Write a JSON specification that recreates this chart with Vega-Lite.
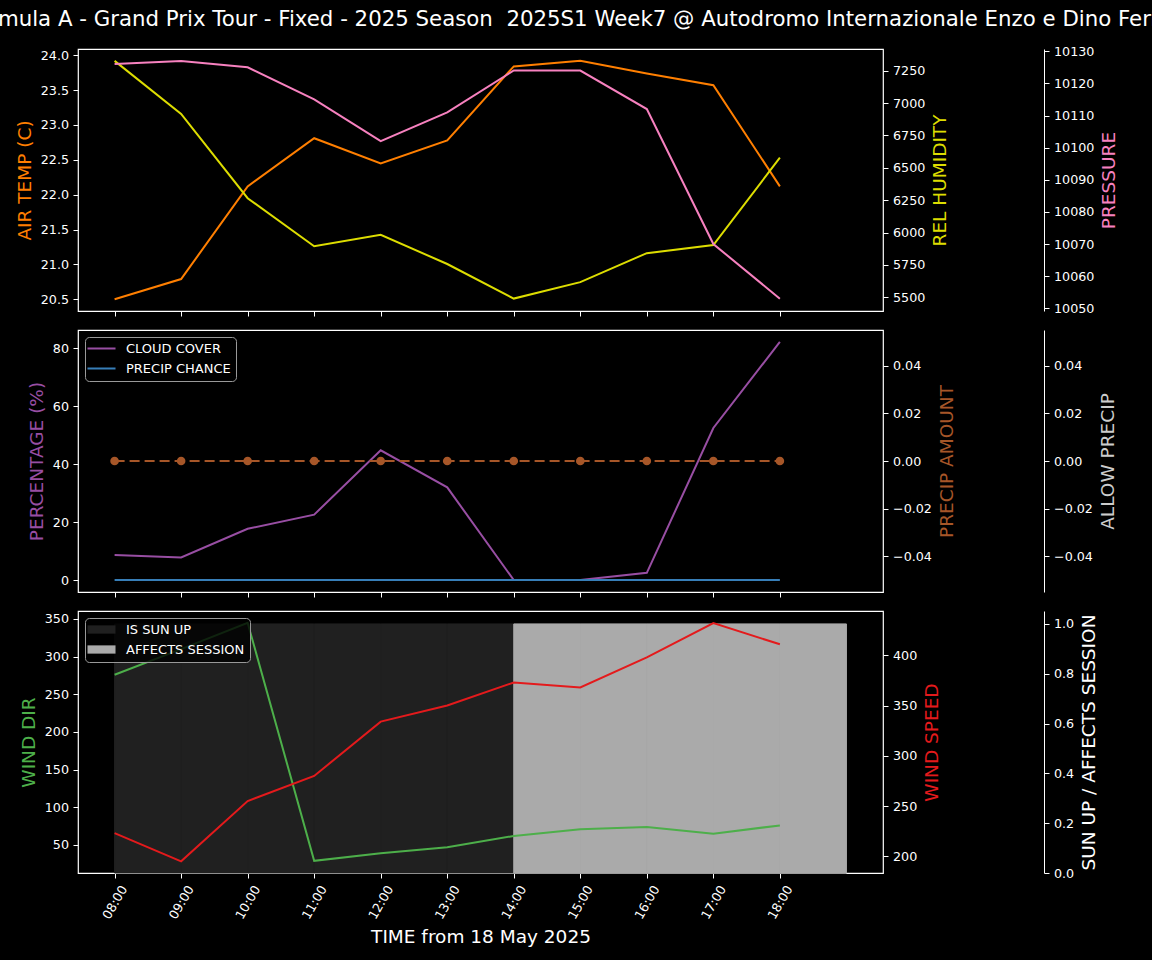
{
"$schema": "https://vega.github.io/schema/vega-lite/v6.json",
"background": "black",
"padding": {"left": -35, "top": 9, "right": -25, "bottom": 25},
"title": {"text": "Formula A - Grand Prix Tour - Fixed - 2025 Season\u00a0 2025S1 Week7 @ Autodromo Internazionale Enzo e Dino Ferrari", "color": "white", "font": "DejaVu Sans", "fontSize": 21.3, "fontWeight": "normal", "anchor": "start", "frame": "group", "dx": -113, "offset": 14},
"config": {
  "font": "DejaVu Sans",
  "view": {"stroke": "white", "strokeWidth": 1.2},
  "axis": {"labelColor": "white", "labelFont": "DejaVu Sans", "labelFontSize": 12.7, "titleFont": "DejaVu Sans", "titleFontSize": 18.5, "titleFontWeight": "normal", "tickColor": "white", "tickSize": 5, "tickWidth": 1, "domainColor": "white", "grid": false, "labelPadding": 4.5, "titlePadding": 6},
  "legend": {"labelColor": "white", "labelFont": "DejaVu Sans", "labelFontSize": 13, "fillColor": "rgba(0,0,0,0.8)", "strokeColor": "#999999", "cornerRadius": 4, "padding": 5, "offset": 7, "orient": "top-left", "title": null, "rowPadding": 6, "labelOffset": 18, "symbolOffset": 5, "symbolSize": 121}
},
"datasets": {
  "wx": [
    {"time": "2025-05-18T08:00:00", "air_temp": 20.50, "humidity": 7326, "pressure": 10126, "precip_amount": 0, "allow_precip": 0, "wind_dir": 276, "wind_speed": 223},
    {"time": "2025-05-18T09:00:00", "air_temp": 20.79, "humidity": 6916, "pressure": 10127, "precip_amount": 0, "allow_precip": 0, "wind_dir": 310, "wind_speed": 195},
    {"time": "2025-05-18T10:00:00", "air_temp": 22.12, "humidity": 6265, "pressure": 10125, "precip_amount": 0, "allow_precip": 0, "wind_dir": 345, "wind_speed": 255},
    {"time": "2025-05-18T11:00:00", "air_temp": 22.81, "humidity": 5894, "pressure": 10115, "precip_amount": 0, "allow_precip": 0, "wind_dir": 29, "wind_speed": 280},
    {"time": "2025-05-18T12:00:00", "air_temp": 22.45, "humidity": 5983, "pressure": 10102, "precip_amount": 0, "allow_precip": 0, "wind_dir": 39, "wind_speed": 334},
    {"time": "2025-05-18T13:00:00", "air_temp": 22.78, "humidity": 5757, "pressure": 10111, "precip_amount": 0, "allow_precip": 0, "wind_dir": 47, "wind_speed": 350},
    {"time": "2025-05-18T14:00:00", "air_temp": 23.84, "humidity": 5490, "pressure": 10124, "precip_amount": 0, "allow_precip": 0, "wind_dir": 62, "wind_speed": 373},
    {"time": "2025-05-18T15:00:00", "air_temp": 23.92, "humidity": 5617, "pressure": 10124, "precip_amount": 0, "allow_precip": 0, "wind_dir": 71, "wind_speed": 368},
    {"time": "2025-05-18T16:00:00", "air_temp": 23.74, "humidity": 5841, "pressure": 10112, "precip_amount": 0, "allow_precip": 0, "wind_dir": 74, "wind_speed": 398},
    {"time": "2025-05-18T17:00:00", "air_temp": 23.57, "humidity": 5904, "pressure": 10070, "precip_amount": 0, "allow_precip": 0, "wind_dir": 65, "wind_speed": 432},
    {"time": "2025-05-18T18:00:00", "air_temp": 22.12, "humidity": 6578, "pressure": 10053, "precip_amount": 0, "allow_precip": 0, "wind_dir": 76, "wind_speed": 411}
  ],
  "pct": [
    {"time": "2025-05-18T08:00:00", "series": "CLOUD COVER", "value": 8.7},
    {"time": "2025-05-18T09:00:00", "series": "CLOUD COVER", "value": 7.8},
    {"time": "2025-05-18T10:00:00", "series": "CLOUD COVER", "value": 17.7},
    {"time": "2025-05-18T11:00:00", "series": "CLOUD COVER", "value": 22.6},
    {"time": "2025-05-18T12:00:00", "series": "CLOUD COVER", "value": 44.8},
    {"time": "2025-05-18T13:00:00", "series": "CLOUD COVER", "value": 32.0},
    {"time": "2025-05-18T14:00:00", "series": "CLOUD COVER", "value": 0},
    {"time": "2025-05-18T15:00:00", "series": "CLOUD COVER", "value": 0},
    {"time": "2025-05-18T16:00:00", "series": "CLOUD COVER", "value": 2.5},
    {"time": "2025-05-18T17:00:00", "series": "CLOUD COVER", "value": 52.5},
    {"time": "2025-05-18T18:00:00", "series": "CLOUD COVER", "value": 82.2},
    {"time": "2025-05-18T08:00:00", "series": "PRECIP CHANCE", "value": 0},
    {"time": "2025-05-18T09:00:00", "series": "PRECIP CHANCE", "value": 0},
    {"time": "2025-05-18T10:00:00", "series": "PRECIP CHANCE", "value": 0},
    {"time": "2025-05-18T11:00:00", "series": "PRECIP CHANCE", "value": 0},
    {"time": "2025-05-18T12:00:00", "series": "PRECIP CHANCE", "value": 0},
    {"time": "2025-05-18T13:00:00", "series": "PRECIP CHANCE", "value": 0},
    {"time": "2025-05-18T14:00:00", "series": "PRECIP CHANCE", "value": 0},
    {"time": "2025-05-18T15:00:00", "series": "PRECIP CHANCE", "value": 0},
    {"time": "2025-05-18T16:00:00", "series": "PRECIP CHANCE", "value": 0},
    {"time": "2025-05-18T17:00:00", "series": "PRECIP CHANCE", "value": 0},
    {"time": "2025-05-18T18:00:00", "series": "PRECIP CHANCE", "value": 0}
  ],
  "sun": [
    {"start": "2025-05-18T08:00:00", "end": "2025-05-18T09:00:00", "series": "IS SUN UP", "value": 1},
    {"start": "2025-05-18T09:00:00", "end": "2025-05-18T10:00:00", "series": "IS SUN UP", "value": 1},
    {"start": "2025-05-18T10:00:00", "end": "2025-05-18T11:00:00", "series": "IS SUN UP", "value": 1},
    {"start": "2025-05-18T11:00:00", "end": "2025-05-18T12:00:00", "series": "IS SUN UP", "value": 1},
    {"start": "2025-05-18T12:00:00", "end": "2025-05-18T13:00:00", "series": "IS SUN UP", "value": 1},
    {"start": "2025-05-18T13:00:00", "end": "2025-05-18T14:00:00", "series": "IS SUN UP", "value": 1},
    {"start": "2025-05-18T14:00:00", "end": "2025-05-18T15:00:00", "series": "IS SUN UP", "value": 1},
    {"start": "2025-05-18T15:00:00", "end": "2025-05-18T16:00:00", "series": "IS SUN UP", "value": 1},
    {"start": "2025-05-18T16:00:00", "end": "2025-05-18T17:00:00", "series": "IS SUN UP", "value": 1},
    {"start": "2025-05-18T17:00:00", "end": "2025-05-18T18:00:00", "series": "IS SUN UP", "value": 1},
    {"start": "2025-05-18T18:00:00", "end": "2025-05-18T19:00:00", "series": "IS SUN UP", "value": 1},
    {"start": "2025-05-18T14:00:00", "end": "2025-05-18T15:00:00", "series": "AFFECTS SESSION", "value": 1},
    {"start": "2025-05-18T15:00:00", "end": "2025-05-18T16:00:00", "series": "AFFECTS SESSION", "value": 1},
    {"start": "2025-05-18T16:00:00", "end": "2025-05-18T17:00:00", "series": "AFFECTS SESSION", "value": 1},
    {"start": "2025-05-18T17:00:00", "end": "2025-05-18T18:00:00", "series": "AFFECTS SESSION", "value": 1},
    {"start": "2025-05-18T18:00:00", "end": "2025-05-18T19:00:00", "series": "AFFECTS SESSION", "value": 1}
  ]
},
"spacing": 19,
"bounds": "flush",
"resolve": {"scale": {"color": "independent", "fill": "independent", "stroke": "independent"}, "legend": {"color": "independent", "fill": "independent"}},
"vconcat": [
  {
    "width": 805, "height": 262,
    "data": {"name": "wx"},
    "encoding": {"x": {"field": "time", "type": "temporal",
      "scale": {"domain": [{"year": 2025, "month": 5, "date": 18, "hours": 7, "minutes": 27}, {"year": 2025, "month": 5, "date": 18, "hours": 19, "minutes": 33}]},
      "axis": {"values": [{"year": 2025, "month": 5, "date": 18, "hours": 8}, {"year": 2025, "month": 5, "date": 18, "hours": 9}, {"year": 2025, "month": 5, "date": 18, "hours": 10}, {"year": 2025, "month": 5, "date": 18, "hours": 11}, {"year": 2025, "month": 5, "date": 18, "hours": 12}, {"year": 2025, "month": 5, "date": 18, "hours": 13}, {"year": 2025, "month": 5, "date": 18, "hours": 14}, {"year": 2025, "month": 5, "date": 18, "hours": 15}, {"year": 2025, "month": 5, "date": 18, "hours": 16}, {"year": 2025, "month": 5, "date": 18, "hours": 17}, {"year": 2025, "month": 5, "date": 18, "hours": 18}], "labels": false, "domain": false, "title": null}}},
    "layer": [
      {"mark": {"type": "line", "color": "#ff7f00", "strokeWidth": 2},
       "encoding": {"y": {"field": "air_temp", "type": "quantitative", "scale": {"domain": [20.332, 24.09], "nice": false, "zero": false},
         "axis": {"orient": "left", "title": "AIR TEMP (C)", "titleColor": "#ff7f00", "values": [20.5, 21, 21.5, 22, 22.5, 23, 23.5, 24], "format": ".1f", "domain": false}}}},
      {"mark": {"type": "line", "color": "#dddd00", "strokeWidth": 2},
       "encoding": {"y": {"field": "humidity", "type": "quantitative", "scale": {"domain": [5394.2, 7417.6], "nice": false, "zero": false},
         "axis": {"orient": "right", "title": "REL HUMIDITY", "titleColor": "#dddd00", "values": [5500, 5750, 6000, 6250, 6500, 6750, 7000, 7250], "format": "d", "domain": false, "titleAngle": 270, "titleBaseline": "top"}}}},
      {"mark": {"type": "line", "color": "#f781bf", "strokeWidth": 2},
       "encoding": {"y": {"field": "pressure", "type": "quantitative", "scale": {"domain": [10049.16, 10130.7], "nice": false, "zero": false},
         "axis": {"orient": "right", "offset": 161, "title": "PRESSURE", "titleColor": "#f781bf", "values": [10050, 10060, 10070, 10080, 10090, 10100, 10110, 10120, 10130], "format": "d", "domain": true, "titleAngle": 270, "titleBaseline": "top"}}}}
    ],
    "resolve": {"scale": {"y": "independent"}}
  },
  {
    "width": 805, "height": 262,
    "encoding": {"x": {"field": "time", "type": "temporal",
      "scale": {"domain": [{"year": 2025, "month": 5, "date": 18, "hours": 7, "minutes": 27}, {"year": 2025, "month": 5, "date": 18, "hours": 19, "minutes": 33}]},
      "axis": {"values": [{"year": 2025, "month": 5, "date": 18, "hours": 8}, {"year": 2025, "month": 5, "date": 18, "hours": 9}, {"year": 2025, "month": 5, "date": 18, "hours": 10}, {"year": 2025, "month": 5, "date": 18, "hours": 11}, {"year": 2025, "month": 5, "date": 18, "hours": 12}, {"year": 2025, "month": 5, "date": 18, "hours": 13}, {"year": 2025, "month": 5, "date": 18, "hours": 14}, {"year": 2025, "month": 5, "date": 18, "hours": 15}, {"year": 2025, "month": 5, "date": 18, "hours": 16}, {"year": 2025, "month": 5, "date": 18, "hours": 17}, {"year": 2025, "month": 5, "date": 18, "hours": 18}], "labels": false, "domain": false, "title": null}}},
    "layer": [
      {"data": {"name": "pct"},
       "mark": {"type": "line", "strokeWidth": 2},
       "encoding": {"y": {"field": "value", "type": "quantitative", "scale": {"domain": [-4.11, 86.31], "nice": false, "zero": false},
         "axis": {"orient": "left", "title": "PERCENTAGE (%)", "titleColor": "#984ea3", "values": [0, 20, 40, 60, 80], "format": "d", "domain": false}},
         "color": {"field": "series", "type": "nominal", "scale": {"domain": ["CLOUD COVER", "PRECIP CHANCE"], "range": ["#984ea3", "#377eb8"]},
           "legend": {"symbolType": "M-2.55,0H2.55", "symbolStrokeWidth": 2}}}},
      {"data": {"name": "wx"},
       "mark": {"type": "line", "color": "#a65628", "strokeWidth": 2, "strokeDash": [10, 5], "point": {"filled": true, "size": 75, "color": "#a65628"}},
       "encoding": {"y": {"field": "precip_amount", "type": "quantitative", "scale": {"domain": [-0.055, 0.055], "nice": false, "zero": false},
         "axis": {"orient": "right", "title": "PRECIP AMOUNT", "titleColor": "#a65628", "values": [-0.04, -0.02, 0, 0.02, 0.04], "format": ".2f", "domain": false, "titleAngle": 270, "titleBaseline": "top"}}}},
      {"data": {"name": "wx"},
       "mark": {"type": "line", "opacity": 0},
       "encoding": {"y": {"field": "allow_precip", "type": "quantitative", "scale": {"domain": [-0.055, 0.055], "nice": false, "zero": false},
         "axis": {"orient": "right", "offset": 161, "title": "ALLOW PRECIP", "titleColor": "#cccccc", "values": [-0.04, -0.02, 0, 0.02, 0.04], "format": ".2f", "domain": true, "titleAngle": 270, "titleBaseline": "top"}}}}
    ],
    "resolve": {"scale": {"y": "independent"}}
  },
  {
    "width": 805, "height": 262,
    "encoding": {"x": {"field": "time", "type": "temporal",
      "scale": {"domain": [{"year": 2025, "month": 5, "date": 18, "hours": 7, "minutes": 27}, {"year": 2025, "month": 5, "date": 18, "hours": 19, "minutes": 33}]},
      "axis": {"values": [{"year": 2025, "month": 5, "date": 18, "hours": 8}, {"year": 2025, "month": 5, "date": 18, "hours": 9}, {"year": 2025, "month": 5, "date": 18, "hours": 10}, {"year": 2025, "month": 5, "date": 18, "hours": 11}, {"year": 2025, "month": 5, "date": 18, "hours": 12}, {"year": 2025, "month": 5, "date": 18, "hours": 13}, {"year": 2025, "month": 5, "date": 18, "hours": 14}, {"year": 2025, "month": 5, "date": 18, "hours": 15}, {"year": 2025, "month": 5, "date": 18, "hours": 16}, {"year": 2025, "month": 5, "date": 18, "hours": 17}, {"year": 2025, "month": 5, "date": 18, "hours": 18}], "format": "%H:%M", "labelAngle": -60, "labelAlign": "center", "labelBaseline": "middle", "labelPadding": 24, "labelFontSize": 12.7, "domain": false, "title": "TIME from 18 May 2025", "titleColor": "white", "titlePadding": 6}}},
    "layer": [
      {"data": {"name": "sun"},
       "mark": {"type": "rect", "strokeWidth": 1},
       "encoding": {"x": {"field": "start", "type": "temporal"}, "x2": {"field": "end"},
         "y": {"field": "value", "type": "quantitative", "scale": {"domain": [0, 1.052], "nice": false, "zero": false},
           "axis": {"orient": "right", "offset": 161, "title": "SUN UP / AFFECTS SESSION", "titleColor": "white", "values": [0, 0.2, 0.4, 0.6, 0.8, 1.0], "format": ".1f", "domain": true, "titleAngle": 270, "titleBaseline": "top"}},
         "y2": {"datum": 0},
         "fill": {"field": "series", "type": "nominal", "scale": {"domain": ["IS SUN UP", "AFFECTS SESSION"], "range": ["#202020", "#aaaaaa"]},
           "legend": {"symbolType": "M-2.55,-0.75H2.55V0.75H-2.55Z", "symbolStrokeWidth": 0}},
         "stroke": {"field": "series", "type": "nominal", "scale": {"domain": ["IS SUN UP", "AFFECTS SESSION"], "range": ["#202020", "#aaaaaa"]}, "legend": null}}},
      {"data": {"name": "wx"},
       "mark": {"type": "line", "color": "#4daf4a", "strokeWidth": 2},
       "encoding": {"y": {"field": "wind_dir", "type": "quantitative", "scale": {"domain": [12.8, 360.6], "nice": false, "zero": false},
         "axis": {"orient": "left", "title": "WIND DIR", "titleColor": "#4daf4a", "values": [50, 100, 150, 200, 250, 300, 350], "format": "d", "domain": false}}}},
      {"data": {"name": "wx"},
       "mark": {"type": "line", "color": "#e41a1c", "strokeWidth": 2},
       "encoding": {"y": {"field": "wind_speed", "type": "quantitative", "scale": {"domain": [183.4, 444.1], "nice": false, "zero": false},
         "axis": {"orient": "right", "title": "WIND SPEED", "titleColor": "#e41a1c", "values": [200, 250, 300, 350, 400], "format": "d", "domain": false, "titleAngle": 270, "titleBaseline": "top"}}}}
    ],
    "resolve": {"scale": {"y": "independent"}}
  }
]
}
